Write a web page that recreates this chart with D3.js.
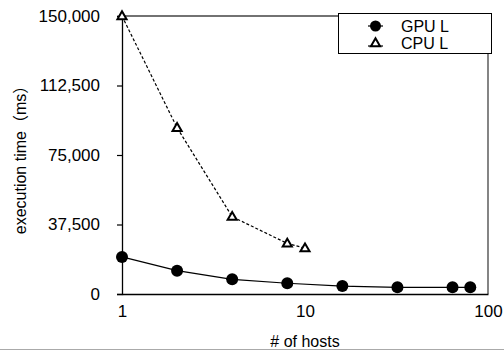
<!DOCTYPE html>
<html>
<head>
<meta charset="utf-8">
<script src="https://cdn.jsdelivr.net/npm/d3@7"></script>
<style>
  html, body { margin: 0; padding: 0; background: #fff; }
  svg { display: block; font-family: "Liberation Sans", Arial, "Noto Sans CJK JP", sans-serif; }
</style>
</head>
<body>
<svg id="chart" width="504" height="351"></svg>
<script>
// Execution time vs. number of hosts
const gpuHosts = [1, 2, 4, 8, 16, 32, 64, 80];
const gpuTime  = [20000, 12600, 7900, 5800, 4300, 3600, 3600, 3600];
const cpuHosts = [1, 2, 4, 8, 10];
const cpuTime  = [150000, 89700, 41700, 27300, 24700];
const yTicks   = [0, 37500, 75000, 112500, 150000];
const xTicks   = [1, 10, 100];
const seriesNames = ["GPU L", "CPU L"];

const svg = d3.select("#chart");
const plotL = 122, plotR = 488, plotT = 16, plotB = 294;

const x = d3.scaleLog().domain([1, 100]).range([plotL, plotR]);
const y = d3.scaleLinear().domain([0, 150000]).range([plotB, plotT]);

// frame (top / right)
svg.append("path")
  .attr("d", `M${plotL},${plotT}H${plotR}V${plotB}`)
  .attr("fill", "none").attr("stroke", "#444").attr("stroke-width", 1.3);

// y axis
const yAxis = svg.append("g").attr("transform", `translate(${plotL},0)`)
  .call(d3.axisLeft(y).tickValues(yTicks).tickSize(5).tickPadding(17)
    .tickFormat(d3.format(",")));
yAxis.select(".domain").attr("stroke", "#000").attr("stroke-width", 1.3);
yAxis.selectAll(".tick line").attr("stroke", "#000").attr("stroke-width", 1.2);
yAxis.selectAll("text").attr("font-size", 17).attr("fill", "#000")
  .attr("font-family", "Liberation Sans, Arial, sans-serif");

// x axis
const xAxis = svg.append("g").attr("transform", `translate(0,${plotB})`)
  .call(d3.axisBottom(x).tickValues(xTicks).tickSize(0).tickPadding(11)
    .tickFormat(d3.format("d")));
xAxis.select(".domain").attr("stroke", "#000").attr("stroke-width", 1.3);
xAxis.selectAll("text").attr("font-size", 17).attr("fill", "#000")
  .attr("font-family", "Liberation Sans, Arial, sans-serif");

// axis titles
svg.append("text")
  .attr("transform", "translate(26,156) rotate(-90)")
  .attr("text-anchor", "middle").attr("font-size", 16).attr("fill", "#000")
  .text("execution time（ms）");
svg.append("text")
  .attr("x", 305).attr("y", 347)
  .attr("text-anchor", "middle").attr("font-size", 16).attr("fill", "#000")
  .text("# of hosts");

const line = d3.line().x(d => x(d[0])).y(d => y(d[1]));
const gpuData = gpuHosts.map((h, i) => [h, gpuTime[i]]);
const cpuData = cpuHosts.map((h, i) => [h, cpuTime[i]]);

// CPU series: dashed line, open triangles
svg.append("path").datum(cpuData).attr("d", line)
  .attr("fill", "none").attr("stroke", "#000").attr("stroke-width", 1.2)
  .attr("stroke-dasharray", "3,2");
const tri = d3.symbol().type(d3.symbolTriangle).size(36);
svg.selectAll(".cpu").data(cpuData).join("path")
  .attr("class", "cpu")
  .attr("d", tri)
  .attr("transform", d => `translate(${x(d[0])},${y(d[1]) + 0.5})`)
  .attr("fill", "#fff").attr("stroke", "#000").attr("stroke-width", 2);

// GPU series: solid line, filled circles
svg.append("path").datum(gpuData).attr("d", line)
  .attr("fill", "none").attr("stroke", "#000").attr("stroke-width", 1.2);
svg.selectAll(".gpu").data(gpuData).join("circle")
  .attr("class", "gpu")
  .attr("cx", d => x(d[0])).attr("cy", d => y(d[1])).attr("r", 6)
  .attr("fill", "#000");

// legend
const lg = svg.append("g");
lg.append("rect").attr("x", 338.5).attr("y", 13.5).attr("width", 153).attr("height", 40)
  .attr("fill", "#fff").attr("stroke", "#000").attr("stroke-width", 1);
const rows = [26, 43];
lg.append("line").attr("x1", 368).attr("x2", 383).attr("y1", rows[0]).attr("y2", rows[0])
  .attr("stroke", "#000").attr("stroke-width", 1.2);
lg.append("circle").attr("cx", 375.5).attr("cy", rows[0]).attr("r", 5.5).attr("fill", "#000");
lg.append("line").attr("x1", 368).attr("x2", 383).attr("y1", rows[1] + 3).attr("y2", rows[1] + 3)
  .attr("stroke", "#000").attr("stroke-width", 1.2);
lg.append("path").attr("d", tri).attr("transform", `translate(375.5,${rows[1] + 0.5})`)
  .attr("fill", "#fff").attr("stroke", "#000").attr("stroke-width", 2);
lg.selectAll(".lt").data(seriesNames).join("text")
  .attr("class", "lt")
  .attr("x", 401).attr("y", (d, i) => rows[i] + 6)
  .attr("font-size", 16).attr("fill", "#000")
  .text(d => d);

// bottom rule
svg.append("rect").attr("x", 0).attr("y", 349).attr("width", 504).attr("height", 2).attr("fill", "#fff");
svg.append("line").attr("x1", 0).attr("x2", 504).attr("y1", 349.5).attr("y2", 349.5)
  .attr("stroke", "#aaa").attr("stroke-width", 1);
</script>
</body>
</html>
